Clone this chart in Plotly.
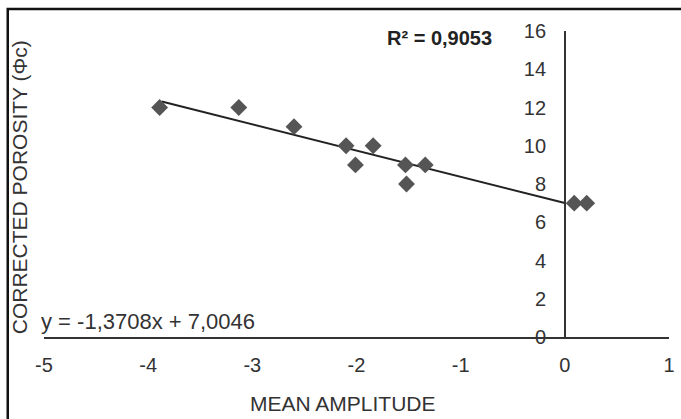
import plotly.graph_objects as go

# Data
mean_amplitude = [-3.89, -3.13, -2.60, -2.10, -2.01, -1.84, -1.53, -1.52, -1.34, 0.09, 0.21]
corrected_porosity = [12, 12, 11, 10, 9, 10, 9, 8, 9, 7, 7]

slope = -1.3708
intercept = 7.0046
r_squared = "0,9053"
trend_x = [-3.87, 0.0]
trend_y = [slope * x + intercept for x in trend_x]

x_ticks = [-5, -4, -3, -2, -1, 0, 1]
y_ticks = [0, 2, 4, 6, 8, 10, 12, 14, 16]

FONT = "Liberation Sans, Arial, sans-serif"
TXT = "#333333"

fig = go.Figure()
fig.add_trace(go.Scatter(
    x=trend_x, y=trend_y, mode="lines",
    line=dict(color="#222222", width=2), hoverinfo="skip", showlegend=False))
fig.add_trace(go.Scatter(
    x=mean_amplitude, y=corrected_porosity, mode="markers",
    marker=dict(symbol="diamond", size=13, color="#555555"),
    showlegend=False))

fig.update_layout(
    width=681, height=419,
    margin=dict(l=44, r=6, t=31, b=82),
    paper_bgcolor="white", plot_bgcolor="white",
    font=dict(family=FONT, color=TXT, size=20),
    xaxis=dict(
        range=[-5, 1], tickvals=x_ticks, ticktext=[str(v) for v in x_ticks],
        showgrid=False, zeroline=False, showline=True, linecolor="#333333", linewidth=1.5,
        ticks="", ticklabelstandoff=9, tickfont=dict(size=20),
    ),
    yaxis=dict(
        range=[0, 16], tickvals=y_ticks, ticktext=[str(v) for v in y_ticks],
        showgrid=False, zeroline=False, showline=True, linecolor="#333333", linewidth=1.5,
        ticks="", ticklabelstandoff=14, tickfont=dict(size=20),
        anchor="free", position=5 / 6,
    ),
)

# X-axis title
fig.add_annotation(
    text="MEAN AMPLITUDE",
    xref="paper", yref="paper", x=(346 - 44) / 631, y=-(403 - 337) / 306,
    xanchor="center", yanchor="middle",
    showarrow=False, font=dict(size=21, color=TXT, family=FONT))

# Y-axis title (placed at the left side of the chart like the original)
fig.add_annotation(
    text="CORRECTED POROSITY (Φc)", textangle=-90,
    xref="paper", yref="paper", x=-(44 - 19) / 631, y=(337 - 187) / 306,
    xanchor="center", yanchor="middle",
    showarrow=False, font=dict(size=21, color=TXT, family=FONT))

fig.add_annotation(
    text=f"<b>R² = {r_squared}</b>",
    xref="paper", yref="paper", x=(388 - 44) / 631, y=(337 - 38) / 306,
    xanchor="left", yanchor="middle",
    showarrow=False, font=dict(size=20, color="#222222", family=FONT))

fig.add_annotation(
    text=f"y = {str(slope).replace('.', ',')}x + {str(intercept).replace('.', ',')}",
    xref="paper", yref="paper", x=-(44 - 39) / 631, y=(337 - 321) / 306,
    xanchor="left", yanchor="middle",
    showarrow=False, font=dict(size=22, color=TXT, family=FONT))

# Outer frame
fig.add_shape(type="rect", xref="paper", yref="paper",
              x0=-0.058, y0=-0.4, x1=1.05, y1=1.072,
              line=dict(color="#111111", width=2.5), layer="above")

fig.write_html("out.html")
